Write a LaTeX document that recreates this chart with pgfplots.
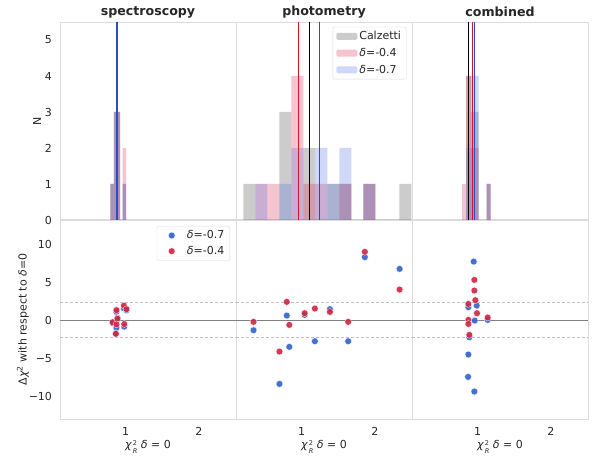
\documentclass[border=0pt]{standalone}
\usepackage{fontspec}
\setmainfont{DejaVu Sans}
\usepackage{pgfplots}
\pgfplotsset{compat=1.18}

\definecolor{cgray}{RGB}{128,128,128}
\definecolor{cpink}{RGB}{220,20,60}
\definecolor{cblue}{RGB}{65,105,225}
\definecolor{ptblue}{RGB}{52,100,205}
\definecolor{ptred}{RGB}{208,40,68}
\definecolor{lnblue}{RGB}{40,75,200}
\definecolor{lnred}{RGB}{215,20,45}
\definecolor{spine}{RGB}{220,220,220}
\definecolor{txt}{RGB}{38,38,38}

% chi^2_R with the 2 and the R stacked in one small two-row box
\newcommand{\chiR}{\textit{χ}\kern1pt\raisebox{-0.5pt}{\fontsize{6.5}{8}\selectfont\begin{tabular}[c]{@{}l@{}}2\\\textit{R}\end{tabular}}}
\newcommand{\fs}{\fontsize{11}{13}\selectfont}

\pgfplotsset{
  panel/.style={
    scale only axis, width=176pt,
    xmin=0.1, xmax=2.51,
    axis line style={spine, line width=1pt},
    major tick length=0pt,
    tick label style={font=\fs, text=txt},
    /pgf/number format/assume math mode=true,
    xticklabel style={yshift=-5pt},
    yticklabel style={xshift=-4.5pt},
    every axis title/.style={at={(rel axis cs:0.5,1)}, anchor=center, yshift=10pt,
      font=\fontsize{12.6}{14}\selectfont\bfseries, text=txt},
    every axis x label/.style={at={(rel axis cs:0.5,0)}, anchor=center, yshift=-28.5pt, font=\fs, text=txt},
  },
  toppanel/.style={panel, height=198pt, ymin=0, ymax=5.5, xtick=\empty, ytick=\empty},
  botpanel/.style={panel, height=199pt, ymin=-13.0, ymax=13.18, xtick={1,2}, ytick=\empty,
    xlabel={\chiR\ \textit{δ} = 0}},
  hg/.style={ybar interval, fill=cgray, fill opacity=0.4, draw=none},
  hp/.style={ybar interval, fill=cpink, fill opacity=0.25, draw=none},
  hb/.style={ybar interval, fill=cblue, fill opacity=0.25, draw=none},
  vg/.style={black, line width=1.1pt},
  vp/.style={lnred, line width=1.1pt},
  vb/.style={lnblue, line width=1.1pt},
  sb/.style={only marks, mark=*, mark size=3.4pt, mark options={fill=ptblue, draw=white, line width=0.3pt, fill opacity=0.92}},
  sr/.style={only marks, mark=*, mark size=3.4pt, mark options={fill=ptred, draw=white, line width=0.3pt, fill opacity=0.92}},
  zl/.style={cgray, line width=1pt},
  dl/.style={black!25, line width=0.6pt, dash pattern=on 3pt off 2pt},
  patch/.style={legend image code/.code={\fill[##1] (0pt,-3.5pt) rectangle (21pt,3.5pt);}},
  dot/.style={legend image code/.code={\draw[##1] plot coordinates {(11pt,0pt)}; \path (0pt,0pt) (24pt,0pt);}},
  lgd/.style={legend style={draw=spine, fill=white, rounded corners=2pt, font=\fs, text=txt,
    inner xsep=3.5pt, inner ysep=2.5pt, cells={anchor=west}}},
}

\begin{document}
\begin{tikzpicture}

% ---------- top row: histograms ----------
\begin{axis}[toppanel, at={(60pt,-22pt)}, anchor=north west,
  title={spectroscopy}, ytick={0,1,2,3,4,5}, ylabel={N},
  every axis y label/.style={at={(rel axis cs:0,0.5)}, xshift=-23pt, rotate=90,
    anchor=center, font=\fs, text=txt}]
  \addplot[hg] coordinates {(0.791,1) (0.836,3) (0.922,0) (0.959,1) (1.004,0)};
  \addplot[hp] coordinates {(0.791,1) (0.836,3) (0.922,0) (0.959,2) (1.004,0)};
  \addplot[hb] coordinates {(0.791,1) (0.836,3) (0.922,0) (0.959,1) (1.004,0)};
  \addplot[vg] coordinates {(0.879,0) (0.879,5.5)};
  \addplot[vp] coordinates {(0.880,0) (0.880,5.5)};
  \addplot[vb] coordinates {(0.881,0) (0.881,5.5)};
\end{axis}

\begin{axis}[toppanel, at={(236pt,-22pt)}, anchor=north west,
  title={photometry}, lgd,
  legend style={at={(0.97,0.976)}, anchor=north east, row sep=3pt}]
  \addplot[hg, patch] coordinates {(0.2,1) (0.3643,0) (0.5286,0) (0.6929,3) (0.8571,0)
    (1.0214,2) (1.1857,0) (1.35,1) (1.5143,1) (1.6786,0) (1.8429,1) (2.0071,0)
    (2.1714,0) (2.3357,1) (2.5,0)};
  \addlegendentry{Calzetti}
  \addplot[hp, patch] coordinates {(0.2,0) (0.3643,1) (0.5286,1) (0.6929,0) (0.8571,4)
    (1.0214,1) (1.1857,1) (1.35,0) (1.5143,1) (1.6786,0) (1.8429,1) (2.0071,0)
    (2.1714,0) (2.3357,0) (2.5,0)};
  \addlegendentry{\textit{δ}=-0.4}
  \addplot[hb, patch] coordinates {(0.2,0) (0.3643,1) (0.5286,0) (0.6929,1) (0.8571,2)
    (1.0214,0) (1.1857,2) (1.35,1) (1.5143,2) (1.6786,0) (1.8429,1) (2.0071,0)
    (2.1714,0) (2.3357,0) (2.5,0)};
  \addlegendentry{\textit{δ}=-0.7}
  \addplot[vg, forget plot] coordinates {(1.11,0) (1.11,5.5)};
  \addplot[vp, forget plot] coordinates {(0.954,0) (0.954,5.5)};
  \addplot[vb, forget plot] coordinates {(1.24,0) (1.24,5.5)};
\end{axis}

\begin{axis}[toppanel, at={(412pt,-22pt)}, anchor=north west,
  title={combined}]
  \addplot[hg] coordinates {(0.840,4) (0.9045,3) (1.0136,0) (1.1228,1) (1.177,0)};
  \addplot[hp] coordinates {(0.786,1) (0.840,4) (0.9045,2) (1.0136,0) (1.1228,1) (1.177,0)};
  \addplot[hb] coordinates {(0.840,2) (0.9045,4) (1.0136,0) (1.1228,1) (1.177,0)};
  \addplot[vg] coordinates {(0.872,0) (0.872,5.5)};
  \addplot[vp] coordinates {(0.930,0) (0.930,5.5)};
  \addplot[vb] coordinates {(0.956,0) (0.956,5.5)};
\end{axis}

% ---------- bottom row: delta chi^2 ----------
\begin{axis}[botpanel, at={(60pt,-220pt)}, anchor=north west,
  ytick={-10,-5,0,5,10}, yticklabels={−10,−5,0,5,10},
  ylabel={Δ\textit{χ}\textsuperscript{2} with respect to \textit{δ}=0},
  every axis y label/.style={at={(rel axis cs:0,0.5)}, xshift=-37pt, rotate=90,
    anchor=center, font=\fs, text=txt},
  lgd, legend style={at={(0.966,0.97)}, anchor=north east, row sep=2pt}]
  \addplot[zl, forget plot] coordinates {(0.1,0) (2.51,0)};
  \addplot[dl, forget plot] coordinates {(0.1,2.3) (2.51,2.3)};
  \addplot[dl, forget plot] coordinates {(0.1,-2.3) (2.51,-2.3)};
  \addplot[sb, dot] coordinates {(0.873,1.1) (0.975,1.55) (1.01,1.3) (0.82,-0.4)
    (0.887,0.3) (0.873,-1.0) (0.98,-0.85) (0.865,-1.7)};
  \addlegendentry{\textit{δ}=-0.7}
  \addplot[sr, dot] coordinates {(0.873,1.32) (0.975,1.92) (1.01,1.45) (0.82,-0.27)
    (0.887,0.2) (0.873,-0.55) (0.98,-0.5) (0.865,-1.8)};
  \addlegendentry{\textit{δ}=-0.4}
\end{axis}

\begin{axis}[botpanel, at={(236pt,-220pt)}, anchor=north west]
  \addplot[zl] coordinates {(0.1,0) (2.51,0)};
  \addplot[dl] coordinates {(0.1,2.3) (2.51,2.3)};
  \addplot[dl] coordinates {(0.1,-2.3) (2.51,-2.3)};
  \addplot[sb] coordinates {(0.34,-1.32) (0.695,-8.38) (0.795,0.61) (0.83,-3.51)
    (1.04,0.70) (1.18,-2.77) (1.386,1.45) (1.636,-2.77) (1.864,8.29) (2.34,6.75)};
  \addplot[sr] coordinates {(0.34,-0.22) (0.695,-4.13) (0.795,2.41) (0.83,-0.62)
    (1.04,0.92) (1.18,1.53) (1.386,1.09) (1.636,-0.22) (1.864,8.99) (2.34,4.03)};
\end{axis}

\begin{axis}[botpanel, at={(412pt,-220pt)}, anchor=north west]
  \addplot[zl] coordinates {(0.1,0) (2.51,0)};
  \addplot[dl] coordinates {(0.1,2.3) (2.51,2.3)};
  \addplot[dl] coordinates {(0.1,-2.3) (2.51,-2.3)};
  \addplot[sb] coordinates {(0.945,7.71) (0.872,1.71) (0.986,1.92) (0.959,-0.05)
    (1.136,0.04) (0.885,-2.24) (0.872,-4.52) (0.868,-7.46) (0.954,-9.39)};
  \addplot[sr] coordinates {(0.954,5.30) (0.954,3.90) (0.968,2.63) (0.872,2.14)
    (0.99,0.92) (1.136,0.35) (0.872,0.04) (0.872,-0.49) (0.885,-1.93)};
\end{axis}

\pgfresetboundingbox
\useasboundingbox (0,0) rectangle (601pt,-455pt);
\end{tikzpicture}
\end{document}
